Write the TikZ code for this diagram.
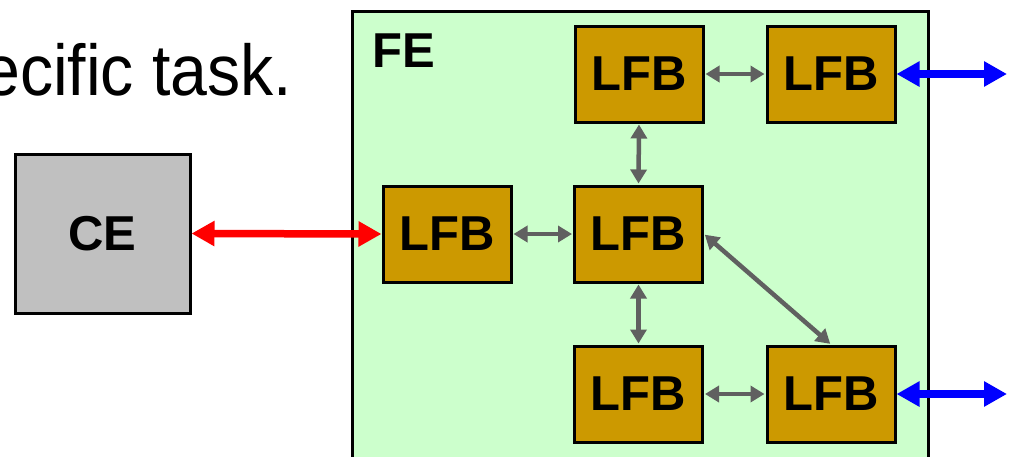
\documentclass[tikz,border=0pt]{standalone}
\usepackage{fontspec}
\setmainfont{Liberation Sans}
\usetikzlibrary{arrows.meta}
\definecolor{fegreen}{HTML}{CCFFCC}
\definecolor{lfbgold}{HTML}{CC9900}
\definecolor{cegray}{HTML}{C0C0C0}
\definecolor{arrgray}{HTML}{606060}
\tikzset{
  lfb/.style={draw=black, line width=3pt, fill=lfbgold, minimum width=128pt, minimum height=96pt, inner sep=0pt,
    font=\fontsize{49}{58}\selectfont\bfseries},
  cebox/.style={draw=black, line width=3pt, fill=cegray, minimum width=175pt, minimum height=159pt, inner sep=0pt,
    font=\fontsize{49}{58}\selectfont\bfseries},
  garr/.style={draw=arrgray, line width=4.5pt, {Triangle[width=16pt,length=14pt]}-{Triangle[width=16pt,length=14pt]}, shorten <=1pt, shorten >=1pt},
  bigarr/.style={line width=7.5pt, {Triangle[width=24pt,length=23pt]}-{Triangle[width=24pt,length=23pt]}},
}
\begin{document}
\begin{tikzpicture}[x=1pt,y=-1pt]
\useasboundingbox (0,0) rectangle (1013,456);
\clip (0,0) rectangle (1013,456);
\node[anchor=base west, inner sep=0pt, font=\fontsize{72}{86}\selectfont] (title) at (-17,95) {\scalebox{0.92}[1]{ecific task.}};
\node[draw=black, line width=3pt, fill=fegreen, minimum width=576pt, minimum height=470pt, inner sep=0pt, anchor=north west] (fe) at (351,10) {};
\node[anchor=base west, inner sep=0pt, font=\fontsize{49}{58}\selectfont\bfseries] (felabel) at (372,67) {FE};
\node[cebox] (ce) at (102.5,233.5) {CE};
\node[lfb] (l1) at (447,234) {LFB};
\node[lfb] (l2) at (638.5,234) {LFB};
\node[lfb] (l3) at (639,74) {LFB};
\node[lfb] (l4) at (831,74) {LFB};
\node[lfb] (l5) at (638.5,394) {LFB};
\node[lfb] (l6) at (831,394) {LFB};
\coordinate (o1) at (1007,74);
\coordinate (o2) at (1007,394);
\draw[bigarr, red] (ce.east) -- (l1.west);
\draw[bigarr, blue] (l4.east) -- (o1);
\draw[bigarr, blue] (l6.east) -- (o2);
\draw[garr] (l1.east) -- (l2.west);
\draw[garr] (l3.east) -- (l4.west);
\draw[garr] (l5.east) -- (l6.west);
\draw[garr] (l3.south) -- (l2.north);
\draw[garr] (l2.south) -- (l5.north);
\draw[garr] (l2.east) -- (l6.north);
\end{tikzpicture}
\end{document}
